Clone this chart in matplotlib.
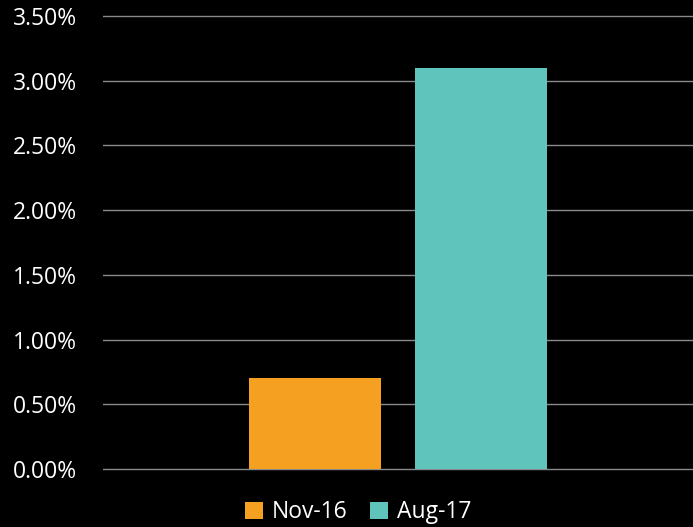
import matplotlib
matplotlib.use("Agg")
import matplotlib.pyplot as plt
from matplotlib.ticker import FuncFormatter
from matplotlib.patches import Patch

series = ["Nov-16", "Aug-17"]
values = [0.70, 3.10]
colors = ["#F5A020", "#5EC4BC"]
yticks = [0.0, 0.5, 1.0, 1.5, 2.0, 2.5, 3.0, 3.5]

plt.rcParams['font.family'] = ['Open Sans', 'DejaVu Sans']

fig = plt.figure(figsize=(6.93, 5.27), dpi=100, facecolor="black")
ax = fig.add_axes([103/693, (527-471)/527, 1 - 103/693, (471-14)/527])
ax.set_facecolor("black")

offsets = [-0.1415, 0.1415]
width = 0.2237
for off, v, c, s in zip(offsets, values, colors, series):
    ax.bar(0.5 + off, v, width=width, color=c, label=s, zorder=3)

# small margin so the 0% and 3.5% gridlines are drawn fully
m = 3.5 * 2 / 453
ax.set_xlim(0, 1)
ax.set_ylim(-m, 3.5 + m)
ax.set_yticks(yticks)
ax.yaxis.set_major_formatter(FuncFormatter(lambda v, p: f"{v:.2f}%"))
ax.tick_params(axis='y', colors="white", labelsize=16.5, length=0, pad=90 * 0.72)
ax.set_xticks([])
for sp in ax.spines.values():
    sp.set_visible(False)
ax.grid(axis='y', color="#8a8a8a", linewidth=1.0, zorder=0)
for lab in ax.get_yticklabels():
    lab.set_horizontalalignment('left')

handles = [Patch(facecolor=c, label=s) for c, s in zip(colors, series)]
leg = fig.legend(handles=handles, loc="center", bbox_to_anchor=(0.517, 0.028), ncol=2,
                 frameon=False, fontsize=16.5, labelcolor="white", handlelength=0.75,
                 handleheight=0.75, handletextpad=0.4, columnspacing=1.0)

fig.savefig("out.png", dpi=100, facecolor="black")
